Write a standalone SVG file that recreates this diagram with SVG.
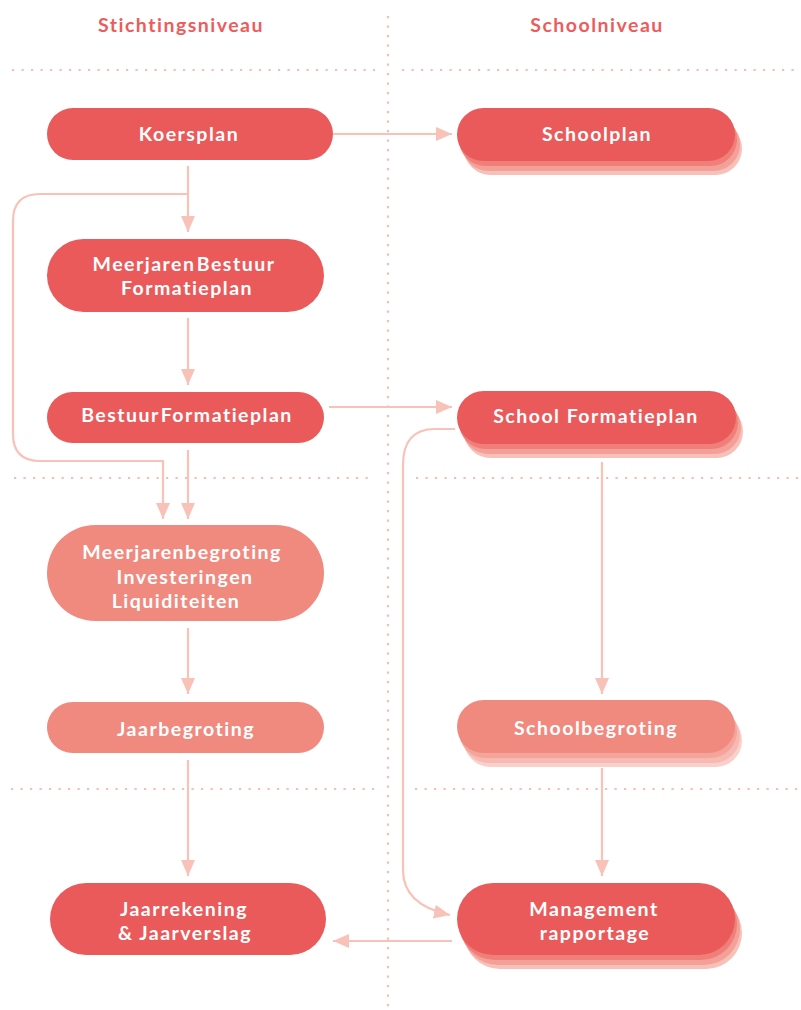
<svg xmlns="http://www.w3.org/2000/svg" width="801" height="1010" viewBox="0 0 801 1010">
<defs>
<style>
.dot{stroke:#f7bcb2;stroke-width:2.2;stroke-dasharray:2.2 7.3;fill:none}
.con{stroke:#f8c2b8;stroke-width:2.2;fill:none}
.dark{fill:#ea5a5a}
.light{fill:#f08a7f}
.l1d{fill:#ef7f78}.l2d{fill:#f3a098}.l3d{fill:#f7c0b9}
.l1l{fill:#f4a49b}.l2l{fill:#f7bab3}.l3l{fill:#fad0cb}
.t{font-family:Lato,"Open Sans",sans-serif;font-weight:700;font-size:19.5px;fill:#fff;text-anchor:middle;letter-spacing:1.5px}
.tight{word-spacing:-5px}
.h{font-family:Lato,"Open Sans",sans-serif;font-weight:700;font-size:19.5px;fill:#ec5c5c;text-anchor:middle;letter-spacing:1.5px}
</style>
<marker id="ah" viewBox="0 0 16 14" refX="16" refY="7" markerWidth="16" markerHeight="14" markerUnits="userSpaceOnUse" orient="auto">
<path d="M0,0 L16,7 L0,14 Z" fill="#f8c2b8"/>
</marker>
</defs>
<rect width="801" height="1010" fill="#fff"/>
<g id="grid">
<line class="dot" x1="388" y1="16" x2="388" y2="1010"/>
<line class="dot" x1="12" y1="70" x2="375" y2="70"/>
<line class="dot" x1="402" y1="70" x2="801" y2="70"/>
<line class="dot" x1="14" y1="478" x2="375" y2="478"/>
<line class="dot" x1="416" y1="478" x2="801" y2="478"/>
<line class="dot" x1="11" y1="789" x2="375" y2="789"/>
<line class="dot" x1="415" y1="789" x2="801" y2="789"/>
</g>
<g id="headers">
<text class="h" x="181" y="32">Stichtingsniveau</text>
<text class="h" x="597" y="32">Schoolniveau</text>
</g>
<g id="connectors">
<line class="con" x1="333" y1="134" x2="452" y2="134" marker-end="url(#ah)"/>
<line class="con" x1="188" y1="166" x2="188" y2="232" marker-end="url(#ah)"/>
<path class="con" d="M188,194 H40 Q13,194 13,221 V434 Q13,461 40,461 H163 V519" marker-end="url(#ah)"/>
<line class="con" x1="188" y1="318" x2="188" y2="385" marker-end="url(#ah)"/>
<line class="con" x1="188" y1="450" x2="188" y2="519" marker-end="url(#ah)"/>
<line class="con" x1="329" y1="407" x2="452" y2="407" marker-end="url(#ah)"/>
<path class="con" d="M455,429 H435 Q403,429 403,465 V870 Q403,905 450,915" marker-end="url(#ah)"/>
<line class="con" x1="602" y1="462" x2="602" y2="694" marker-end="url(#ah)"/>
<line class="con" x1="188" y1="628" x2="188" y2="694" marker-end="url(#ah)"/>
<line class="con" x1="188" y1="760" x2="188" y2="876" marker-end="url(#ah)"/>
<line class="con" x1="602" y1="768" x2="602" y2="876" marker-end="url(#ah)"/>
<line class="con" x1="452" y1="941" x2="333" y2="941" marker-end="url(#ah)"/>
</g>
<g id="koersplan">
<rect class="dark" x="47" y="108" width="286" height="52" rx="26"/>
<text class="t" x="189" y="141">Koersplan</text>
</g>
<g id="meerjaren-bestuur-formatieplan">
<rect class="dark" x="47" y="239" width="277" height="73" rx="36.5"/>
<text class="t tight" x="184" y="271">Meerjaren Bestuur</text>
<text class="t" x="187" y="295">Formatieplan</text>
</g>
<g id="bestuur-formatieplan">
<rect class="dark" x="47" y="392" width="277" height="51" rx="25.5"/>
<text class="t tight" x="187" y="422">Bestuur Formatieplan</text>
</g>
<g id="meerjarenbegroting">
<rect class="light" x="47" y="525" width="277" height="96" rx="48"/>
<text class="t" x="182" y="559">Meerjarenbegroting</text>
<text class="t" x="185" y="584">Investeringen</text>
<text class="t" x="176" y="608">Liquiditeiten</text>
</g>
<g id="jaarbegroting">
<rect class="light" x="47" y="702" width="277" height="51" rx="25.5"/>
<text class="t" x="186" y="736">Jaarbegroting</text>
</g>
<g id="jaarrekening">
<rect class="dark" x="50" y="883" width="276" height="72" rx="36"/>
<text class="t" x="184" y="916">Jaarrekening</text>
<text class="t" x="185" y="940">&amp; Jaarverslag</text>
</g>
<g id="schoolplan">
<rect class="l3d" x="464" y="122" width="278" height="53" rx="26.5"/>
<rect class="l2d" x="462" y="118" width="278" height="53" rx="26.5"/>
<rect class="l1d" x="459" y="113" width="278" height="53" rx="26.5"/>
<rect class="dark" x="457" y="108" width="278" height="53" rx="26.5"/>
<text class="t" x="597" y="141">Schoolplan</text>
</g>
<g id="school-formatieplan">
<rect class="l3d" x="464" y="405" width="279" height="53" rx="26.5"/>
<rect class="l2d" x="462" y="401" width="279" height="53" rx="26.5"/>
<rect class="l1d" x="459" y="396" width="279" height="53" rx="26.5"/>
<rect class="dark" x="457" y="391" width="279" height="53" rx="26.5"/>
<text class="t" x="596" y="423">School Formatieplan</text>
</g>
<g id="schoolbegroting">
<rect class="l3l" x="464" y="714" width="278" height="53" rx="26.5"/>
<rect class="l2l" x="462" y="710" width="278" height="53" rx="26.5"/>
<rect class="l1l" x="459" y="705" width="278" height="53" rx="26.5"/>
<rect class="light" x="457" y="700" width="278" height="53" rx="26.5"/>
<text class="t" x="596" y="735">Schoolbegroting</text>
</g>
<g id="management-rapportage">
<rect class="l3d" x="464" y="897" width="278" height="72" rx="36"/>
<rect class="l2d" x="462" y="893" width="278" height="72" rx="36"/>
<rect class="l1d" x="459" y="888" width="278" height="72" rx="36"/>
<rect class="dark" x="457" y="883" width="278" height="72" rx="36"/>
<text class="t" x="594" y="916">Management</text>
<text class="t" x="595" y="940">rapportage</text>
</g>
</svg>
